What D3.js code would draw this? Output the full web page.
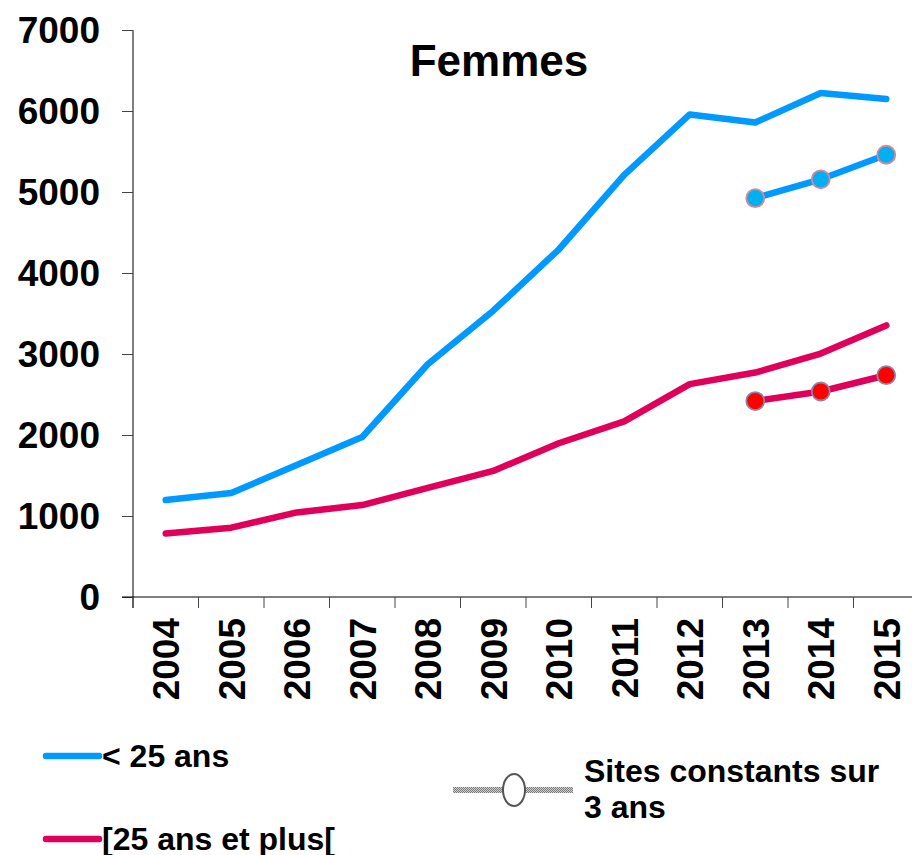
<!DOCTYPE html>
<html>
<head>
<meta charset="utf-8">
<script src="https://cdn.jsdelivr.net/npm/d3@7"></script>
<style>
  body { margin: 0; background: #fff; }
  svg { display: block; font-family: "Liberation Sans", Arial, sans-serif; font-weight: bold; }
</style>
</head>
<body>
<div id="chart"></div>
<script>
const years = [2004, 2005, 2006, 2007, 2008, 2009, 2010, 2011, 2012, 2013, 2014, 2015];
const moins25 = [1197, 1283, 1630, 1975, 2874, 3534, 4290, 5212, 5957, 5858, 6223, 6149];
const plus25 = [783, 856, 1044, 1135, 1348, 1557, 1898, 2169, 2628, 2771, 3005, 3353];
const constYears = [2013, 2014, 2015];
const constMoins25 = [4924, 5157, 5460];
const constPlus25 = [2419, 2537, 2738];
const yTicks = [0, 1000, 2000, 3000, 4000, 5000, 6000, 7000];

const width = 912, height = 855;
const margin = { top: 30, left: 133, right: -7, bottom: 258 };
const blue = "#0099ff", pink = "#e0005a";

const svg = d3.select("#chart").append("svg")
  .attr("width", width)
  .attr("height", height);

const x = d3.scaleBand()
  .domain(years)
  .range([margin.left, width - margin.right]);
const y = d3.scaleLinear()
  .domain([0, 7000])
  .range([height - margin.bottom, margin.top]);
const cx = d => x(d) + x.bandwidth() / 2;

// pattern for the legend line
const defs = svg.append("defs");
const pat = defs.append("pattern")
  .attr("id", "checker")
  .attr("width", 2).attr("height", 2)
  .attr("patternUnits", "userSpaceOnUse");
pat.append("rect").attr("width", 2).attr("height", 2).attr("fill", "#d0d0d0");
pat.append("rect").attr("width", 1).attr("height", 1).attr("fill", "#7a7a7a");
pat.append("rect").attr("x", 1).attr("y", 1).attr("width", 1).attr("height", 1).attr("fill", "#7a7a7a");

// y axis
svg.append("g")
  .attr("transform", `translate(${margin.left},0)`)
  .call(d3.axisLeft(y).tickValues(yTicks).tickSize(11).tickSizeOuter(0).tickFormat(d3.format("d")))
  .call(g => g.select(".domain").attr("stroke", "#000").attr("d", `M0,${y(7000)}V${y(0) + 11}`))
  .call(g => g.selectAll(".tick line").attr("stroke", "#444"))
  .call(g => g.selectAll(".tick text")
    .attr("x", -33)
    .attr("dy", "0.34em")
    .attr("fill", "#000")
    .style("font-size", "37px")
    .style("font-family", "'Liberation Sans', Arial, sans-serif")
    .style("font-weight", "bold"));

// x axis: line + ticks at band boundaries + rotated labels
const xg = svg.append("g");
xg.append("line")
  .attr("x1", margin.left - 11).attr("x2", width)
  .attr("y1", y(0)).attr("y2", y(0))
  .attr("stroke", "#000");
xg.selectAll(".xt")
  .data(years)
  .enter().append("line")
  .attr("class", "xt")
  .attr("x1", d => x(d)).attr("x2", d => x(d))
  .attr("y1", y(0)).attr("y2", y(0) + 11)
  .attr("stroke", "#444");
xg.selectAll(".xl")
  .data(years)
  .enter().append("text")
  .attr("class", "xl")
  .attr("transform", d => `translate(${cx(d)},${y(0) + 21}) rotate(-90)`)
  .attr("text-anchor", "end")
  .attr("dy", "0.36em")
  .style("font-size", "37px")
  .text(d => d);

// lines
const line = d3.line().x(d => cx(d.year)).y(d => y(d.v));
const toPts = (ys, vs) => ys.map((yr, i) => ({ year: yr, v: vs[i] }));

const series = [
  { pts: toPts(years, moins25), color: blue },
  { pts: toPts(years, plus25), color: pink },
  { pts: toPts(constYears, constMoins25), color: blue },
  { pts: toPts(constYears, constPlus25), color: pink }
];
svg.selectAll(".serie")
  .data(series)
  .enter().append("path")
  .attr("class", "serie")
  .attr("d", d => line(d.pts))
  .attr("fill", "none")
  .attr("stroke", d => d.color)
  .attr("stroke-width", 6.5)
  .attr("stroke-linecap", "round")
  .attr("stroke-linejoin", "round");

// markers for constant sites
svg.selectAll(".mb")
  .data(toPts(constYears, constMoins25))
  .enter().append("circle")
  .attr("class", "mb")
  .attr("cx", d => cx(d.year)).attr("cy", d => y(d.v))
  .attr("r", 9)
  .attr("fill", "#00b0f0")
  .attr("stroke", "#e08596")
  .attr("stroke-width", 1.8);
svg.selectAll(".mr")
  .data(toPts(constYears, constPlus25))
  .enter().append("circle")
  .attr("class", "mr")
  .attr("cx", d => cx(d.year)).attr("cy", d => y(d.v))
  .attr("r", 9)
  .attr("fill", "#ff0000")
  .attr("stroke", "#8a88a8")
  .attr("stroke-width", 1.8);

// title
svg.append("text")
  .attr("x", 499).attr("y", 76)
  .attr("text-anchor", "middle")
  .style("font-size", "44px")
  .text("Femmes");

// legend
const leg = svg.append("g").style("font-size", "32px");
leg.append("line").attr("x1", 46).attr("x2", 99).attr("y1", 756).attr("y2", 756)
  .attr("stroke", blue).attr("stroke-width", 6.5).attr("stroke-linecap", "round");
leg.append("text").attr("x", 102).attr("y", 767).text("< 25 ans");
leg.append("line").attr("x1", 46).attr("x2", 99).attr("y1", 839).attr("y2", 839)
  .attr("stroke", pink).attr("stroke-width", 6.5).attr("stroke-linecap", "round");
leg.append("text").attr("x", 102).attr("y", 850).text("[25 ans et plus[");

leg.append("rect").attr("x", 453).attr("y", 787).attr("width", 120).attr("height", 6)
  .attr("fill", "url(#checker)");
leg.append("ellipse").attr("cx", 514).attr("cy", 790).attr("rx", 11).attr("ry", 16)
  .attr("fill", "#fff").attr("stroke", "#555").attr("stroke-width", 2);
leg.append("text").attr("x", 584).attr("y", 782).text("Sites constants sur");
leg.append("text").attr("x", 584).attr("y", 818).text("3 ans");
</script>
</body>
</html>
